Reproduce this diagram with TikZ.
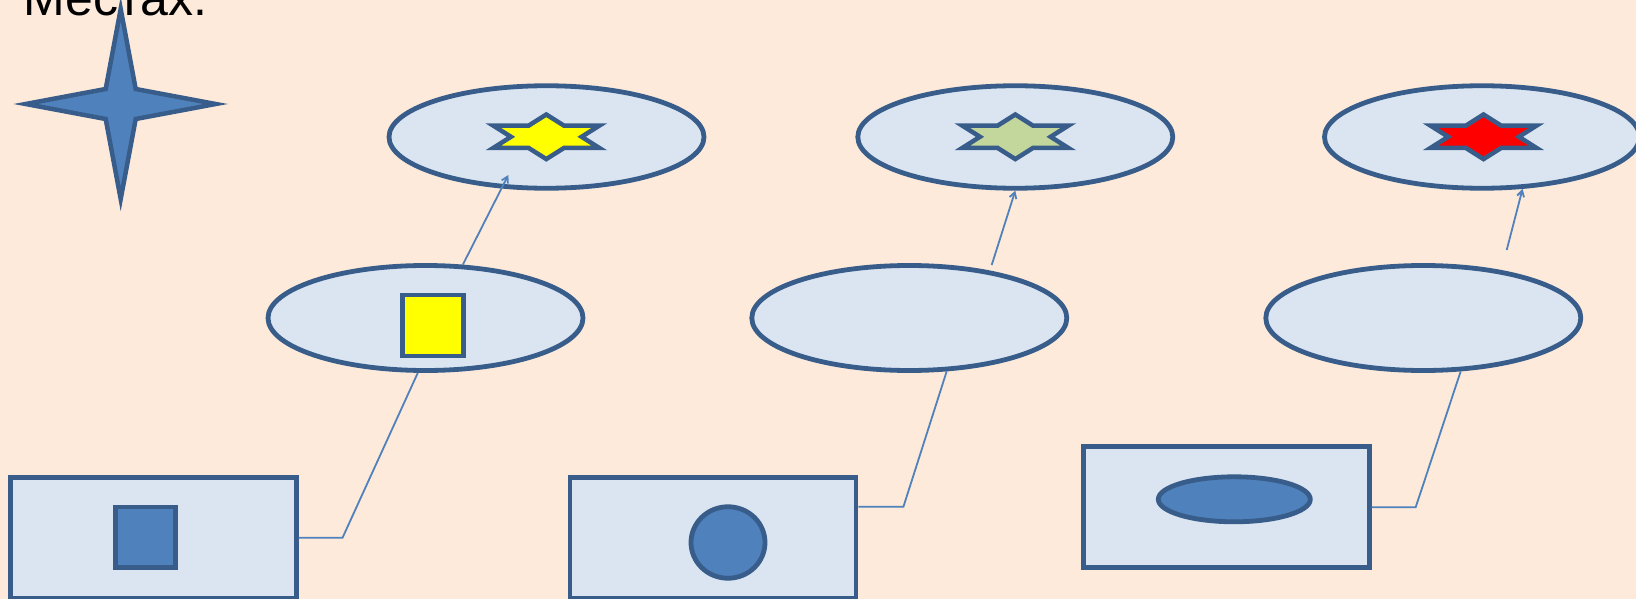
\documentclass[tikz,border=0pt]{standalone}
\usepackage{fontspec}
\setmainfont{Liberation Sans}
\usetikzlibrary{shapes.geometric,arrows.meta}
\definecolor{bg}{HTML}{FDEADA}
\definecolor{lfill}{HTML}{DBE5F1}
\definecolor{dline}{HTML}{385D8A}
\definecolor{mblue}{HTML}{4F81BD}
\definecolor{ygreen}{HTML}{C3D69B}
\definecolor{pyellow}{HTML}{FFFF00}
\definecolor{pred}{HTML}{FF0000}
\tikzset{
  hexa/.pic={
    \path[pic actions] (0,-22.3) -- (17.67,-11.15) -- (53,-11.15) -- (35.33,0) -- (53,11.15) -- (17.67,11.15)
      -- (0,22.3) -- (-17.67,11.15) -- (-53,11.15) -- (-35.33,0) -- (-53,-11.15) -- (-17.67,-11.15) -- cycle;
  },
  quadstar/.pic={
    \path[pic actions] (0,-95) -- (15,-15) -- (95,0) -- (15,15) -- (0,95) -- (-15,15) -- (-95,0) -- (-15,-15) -- cycle;
  }
}
\begin{document}
\begin{tikzpicture}[x=1pt,y=-1pt,
  oval/.style={ellipse, draw=dline, fill=lfill, line width=4.8pt, minimum width=315pt, minimum height=104pt, inner sep=0pt},
  box/.style={rectangle, draw=dline, fill=lfill, line width=4.8pt, minimum width=286pt, minimum height=121pt, inner sep=0pt},
  inshape/.style={draw=dline, line width=4.8pt, inner sep=0pt},
  starline/.style={draw=dline, line width=4.5pt, line join=miter},
  conn/.style={draw=mblue, line width=1.8pt},
  arr/.style={conn, -{Straight Barb[length=6pt,width=7pt]}},
]
\fill[bg] (0,0) rectangle (1636,599);
\useasboundingbox (0,0) rectangle (1636,599);

% heading text (partially cut at top, as in the reference)
\node[anchor=base west, inner sep=0pt, font=\fontsize{50}{60}\selectfont] (txt) at (23,16) {Местах.};

% four-point star
\pic[starline, fill=mblue] at (120.7,104) {quadstar};

% top ellipses
\node[oval, minimum height=102.5pt] (T1) at (546.5,137) {};
\node[oval, minimum height=102.5pt] (T2) at (1015.3,137) {};
\node[oval, minimum height=102.5pt] (T3) at (1482,137) {};
\pic[starline, fill=pyellow] at (546.3,136.8) {hexa};
\pic[starline, fill=ygreen] at (1015.3,136.8) {hexa};
\pic[starline, fill=pred] at (1483.5,136.8) {hexa};

% middle ellipses
\node[oval, minimum height=105pt] (M1) at (425.5,318) {};
\node[oval, minimum height=105pt] (M2) at (909.3,318) {};
\node[oval, minimum height=105pt] (M3) at (1423.3,318) {};
\node[inshape, fill=pyellow, minimum width=61pt, minimum height=61pt] (sq1) at (433,325.5) {};

% bottom rectangles
\node[box] (R1) at (153.1,537.8) {};
\node[box] (R2) at (713,537.8) {};
\node[box] (R3) at (1226.3,507.2) {};
\node[inshape, fill=mblue, minimum width=60.5pt, minimum height=60.5pt] (sq2) at (145.6,537.2) {};
\node[inshape, ellipse, fill=mblue, minimum width=74pt, minimum height=71.5pt] (c2) at (728,542.5) {};
\node[inshape, ellipse, fill=mblue, minimum width=152pt, minimum height=45pt] (e3) at (1234.3,499.3) {};

% connectors from boxes to middle ellipses
\draw[conn] (R1.east) -- ++(44,0) -- (M1.-98);
\draw[conn] ([yshift=31pt]R2.east) -- ++(45,0) -- (M2.-55);
\draw[conn] (R3.east) -- ++(44,0) -- (M3.-55);

% arrows to top ellipses
\coordinate (e1) at (508.3,175);
\coordinate (s2) at (991.7,265);
\coordinate (s3) at (1506.7,250);
\draw[arr] (M1.55) -- (e1);
\draw[arr] (s2) -- (T2.south);
\draw[arr] (s3) -- (T3.-52);
\end{tikzpicture}
\end{document}
